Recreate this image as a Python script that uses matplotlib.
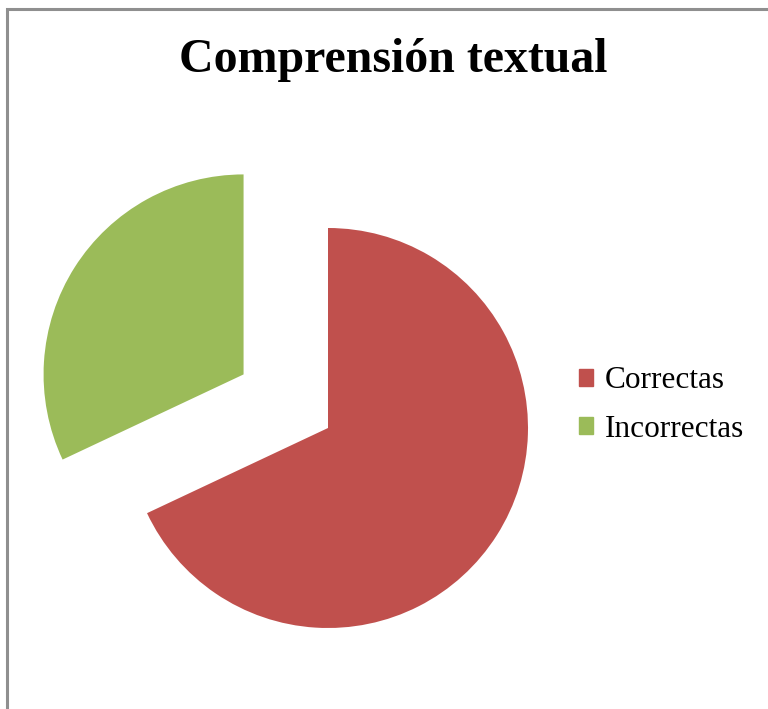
import matplotlib.pyplot as plt
from matplotlib.patches import Rectangle, Patch

# data
categories = ["Correctas", "Incorrectas"]
values = [68, 32]
colors = ["#C0504D", "#9BBB59"]

W, H = 768, 709
fig = plt.figure(figsize=(W / 100, H / 100), dpi=100)
plt.rcParams['font.family'] = ['Liberation Serif', 'DejaVu Serif']

# chart border (gray frame, runs off the right and bottom edges)
fig.patches.append(Rectangle((7 / W, -0.05), 1.1, 1 - 9 / H + 0.05,
                             transform=fig.transFigure, fill=False,
                             edgecolor="#8f8f8f", linewidth=2.2))

ax = fig.add_axes([0, 0, 1, 1])
ax.pie(values, colors=colors, startangle=90, counterclock=False,
       explode=[0, 0.5], radius=1, wedgeprops=dict(linewidth=0))

# place pie centre at (328, 428) px with radius 200 px
r_px = 200
cx, cy = 328, H - 428
ax.set_aspect("auto")
ax.set_xlim(-cx / r_px, (W - cx) / r_px)
ax.set_ylim(-cy / r_px, (H - cy) / r_px)
ax.axis("off")

fig.text(393 / W, 1 - 60 / H, "Comprensión textual", ha="center", va="center",
         fontsize=34.5, fontweight="bold")

handles = [Patch(color=c, label=l) for c, l in zip(colors, categories)]
fig.legend(handles=handles, loc="center left",
           bbox_to_anchor=(551 / W, 1 - 405 / H), frameon=False,
           fontsize=22.5, handlelength=0.45, handleheight=0.45,
           handletextpad=0.38, labelspacing=0.62)

fig.savefig("out.png", dpi=100)
plt.close(fig)
